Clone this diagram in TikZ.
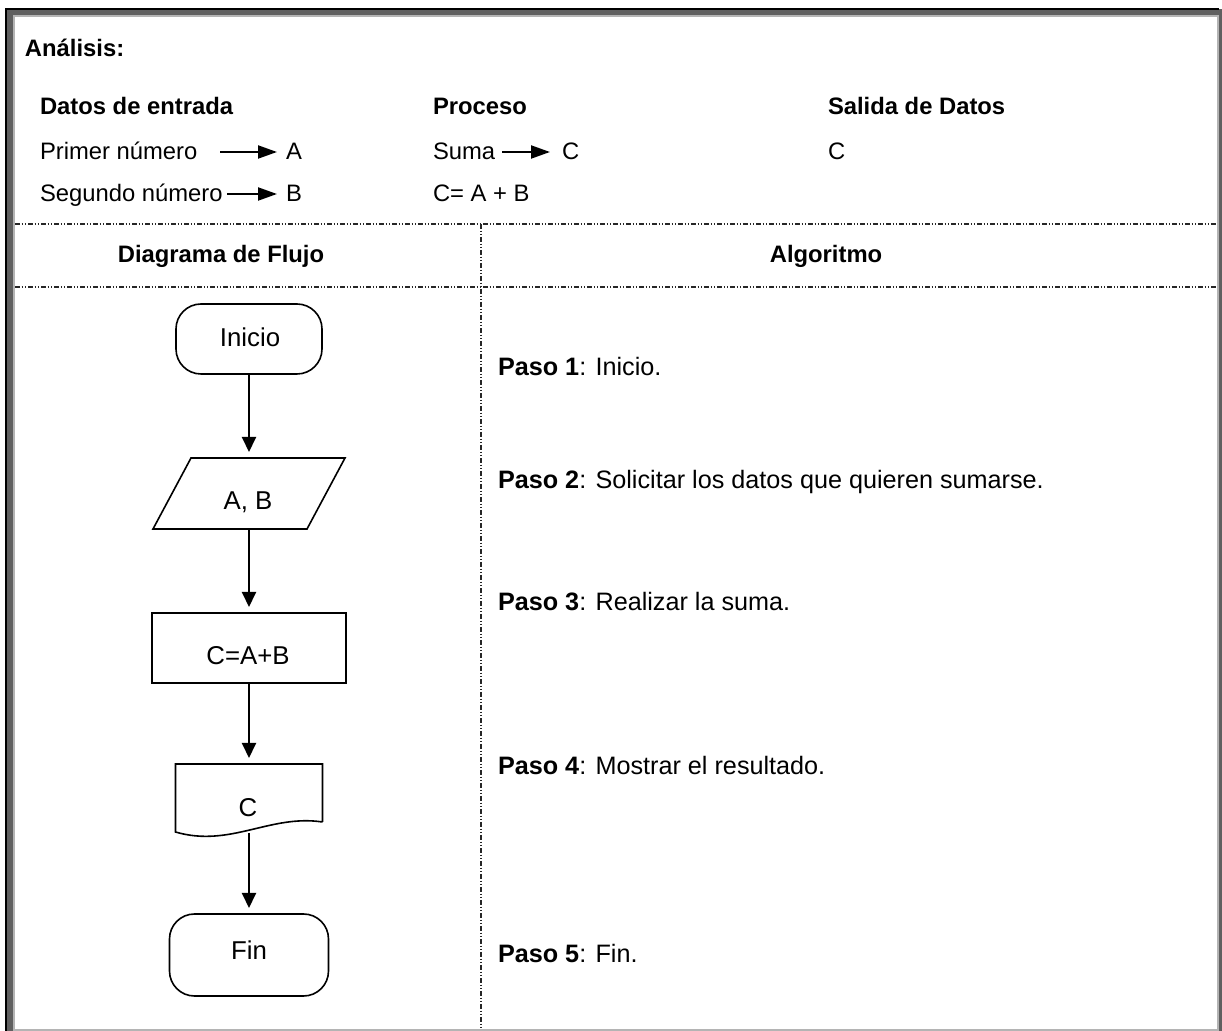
\documentclass[tikz,border=0pt]{standalone}
\usepackage{fontspec}
\setmainfont{Liberation Sans}
\usetikzlibrary{arrows.meta,calc}
\definecolor{bdark}{HTML}{606060}
\definecolor{blight}{HTML}{B4B4B4}
\begin{document}
\begin{tikzpicture}[x=0.5pt,y=-0.5pt,
  every node/.style={font=\fontsize{11.9pt}{14pt}\selectfont, inner sep=0pt, outer sep=0pt},
  txt/.style={anchor=base west},
  lbl/.style={anchor=base},
  hd/.style={font=\fontsize{11.9pt}{14pt}\selectfont\bfseries},
  flowtxt/.style={anchor=base, font=\fontsize{12.9pt}{15pt}\selectfont},
  steptxt/.style={anchor=base west, font=\fontsize{12.6pt}{15pt}\selectfont},
  term/.style={draw, line width=0.8pt, rounded corners=12.5pt},
  procbox/.style={draw, line width=0.8pt},
  ghost/.style={draw=none},
  shapeline/.style={line width=0.8pt},
  flow/.style={line width=1pt, -{Triangle[length=7.5pt,width=7pt]}, shorten >=3pt},
  smallarrow/.style={line width=1pt, -{Triangle[length=9.5pt,width=6.5pt]}},
  sepline/.style={line width=0.75pt, black!85, dash pattern=on 2.5pt off 0.8pt on 0.8pt off 0.8pt on 0.8pt off 0.8pt}
]
\useasboundingbox (0,0) rectangle (1222,1031);
% outer 3D border
\fill[bdark] (1219,9) rectangle (1222,1031);
\fill[black] (5,8) rectangle (1219,10);
\fill[black] (5,8) rectangle (7,1031);
\fill[bdark] (7,10) rectangle (1219,15);
\fill[bdark] (7,10) rectangle (13,1031);
\fill[blight] (13,15) rectangle (1217,17);
\fill[blight] (13,15) rectangle (15,1031);
\fill[blight] (1217,15) rectangle (1219,1031);
\fill[blight] (13,1029) rectangle (1219,1031);

% separators
\coordinate (h1l) at (15,224); \coordinate (h1r) at (1217,224);
\coordinate (h2l) at (15,287); \coordinate (h2r) at (1217,287);
\coordinate (vt) at (481,224); \coordinate (vb) at (481,1029);
\draw[sepline] (h1l) -- (h1r);
\draw[sepline] (h2l) -- (h2r);
\draw[sepline, line width=1pt] (vt) -- (vb);

% analysis
\node[txt,hd] (analisis) at (25,57) {Análisis:};
\node[txt,hd] (entrada) at (40,115) {Datos de entrada};
\node[txt] (pn) at (40,160) {Primer número};
\node[txt] (sn) at (40,202) {Segundo número};
\node[txt] (va) at (286,160) {A};
\node[txt] (vbb) at (286,202) {B};
\coordinate (a1s) at (220,152); \coordinate (a1e) at (277,152);
\coordinate (a2s) at (227,194); \coordinate (a2e) at (277,194);
\draw[smallarrow] (a1s) -- (a1e);
\draw[smallarrow] (a2s) -- (a2e);

\node[txt,hd] (proc) at (433,115) {Proceso};
\node[txt] (suma) at (433,160) {Suma};
\node[txt] (vc) at (562,160) {C};
\node[txt] (eq) at (433,202) {C= A + B};
\coordinate (a3s) at (502,152); \coordinate (a3e) at (550,152);
\draw[smallarrow] (a3s) -- (a3e);

\node[txt,hd] (salida) at (828,115) {Salida de Datos};
\node[txt] (out) at (828,160) {C};

% headers
\node[lbl,hd] (dfh) at (221,263) {Diagrama de Flujo};
\node[lbl,hd] (algh) at (826,263) {Algoritmo};

% flowchart
\node[term, minimum width=73pt, minimum height=35pt] (ini) at (249,339) {};
\node[flowtxt] (initxt) at (250,347) {Inicio};

\node[ghost, minimum width=96pt, minimum height=35.5pt] (ab) at (249,493.5) {};
\draw[shapeline] (ab.south west) -- ([xshift=19pt]ab.north west) -- (ab.north east) -- ([xshift=-19pt]ab.south east) -- cycle;
\node[flowtxt] (abtxt) at (248,510) {A, B};

\node[procbox, minimum width=97pt, minimum height=35pt] (calc) at (249,648) {};
\node[flowtxt] (calctxt) at (248,665) {C=A+B};

\node[ghost, minimum width=73.5pt, minimum height=29pt] (doc) at (249,793) {};
\draw[shapeline] (doc.south east) -- (doc.north east) -- (doc.north west) -- ([yshift=-5pt]doc.south west)
  .. controls (230,848) and (270,814) .. (doc.south east);
\coordinate (docb) at (249,833);
\node[flowtxt] (doctxt) at (248,817) {C};

\node[term, minimum width=79.5pt, minimum height=41pt] (fin) at (249,955) {};
\node[flowtxt] (fintxt) at (249,959) {Fin};

\draw[flow] (ini) -- (ab);
\draw[flow] (ab) -- (calc);
\draw[flow] (calc) -- (doc);
\draw[flow] (docb) -- (fin);

% algorithm
\node[steptxt] (p1) at (498,376) {\textbf{Paso 1}: Inicio.};
\node[steptxt] (p2) at (498,489) {\textbf{Paso 2}: Solicitar los datos que quieren sumarse.};
\node[steptxt] (p3) at (498,611) {\textbf{Paso 3}: Realizar la suma.};
\node[steptxt] (p4) at (498,775) {\textbf{Paso 4}: Mostrar el resultado.};
\node[steptxt] (p5) at (498,963) {\textbf{Paso 5}: Fin.};
\end{tikzpicture}
\end{document}
